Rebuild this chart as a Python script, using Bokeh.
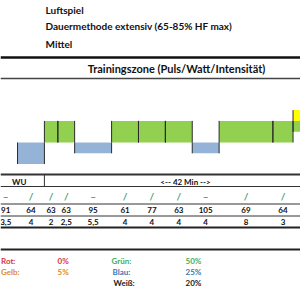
from bokeh.plotting import figure
from bokeh.models import Range1d, ColumnDataSource
from bokeh.embed import file_html
from bokeh.resources import INLINE
from bokeh.core.properties import value

# ---------------- data ----------------
header_lines = ["Luftspiel", "Dauermethode extensiv (65-85% HF max)", "Mittel"]
chart_title = "Trainingszone (Puls/Watt/Intensität)"
symbols = ["–", "/", "/", "/", "–", "/", "/", "/", "–", "/", "/"]
puls = [91, 64, 63, 63, 95, 61, 77, 63, 105, 69, 64]
minutes = [3.5, 4, 2, 2.5, 5.5, 4, 4, 4, 4, 8, 3]
zones = ["Weiß", "Blau", "Grün", "Grün", "Blau", "Grün", "Grün", "Grün", "Blau", "Grün", "Grün"]
zone_low = [0, -2, 0, 0, -1, 0, 0, 0, -1, 0, 0]
zone_high = [0, 0, 2, 2, 0, 2, 2, 2, 0, 2, 2]
# last interval, cut off at the right edge
tail_minutes = 5
tail_zones = ["Grün", "Gelb"]
tail_low = [1, 2]
tail_high = [2, 3]
phases = ["WU", "<-- 42 Min -->"]
phase_minutes = [7.5, 42]
legend_names = ["Rot:", "Gelb:", "Grün:", "Blau:", "Weiß:"]
legend_pct = [0, 5, 50, 25, 20]

# ---------------- style ----------------
FONT = value("Lato")
zone_fill = {"Grün": "#92D050", "Blau": "#95B3D7", "Gelb": "#FFFF00", "Weiß": "#FFFFFF"}
legend_color = {"Rot:": "#d9363e", "Gelb:": "#e08a2c", "Grün:": "#3fae5c",
                "Blau:": "#3b78b5", "Weiß:": "#1a1a1a"}
PX_PER_MIN = 6.72
ORIGIN_PX = -6.5
BASE_PX = 142.0
PX_PER_ZONE = 10.8

p = figure(width=300, height=300, output_backend="svg", toolbar_location=None,
           x_axis_type=None, y_axis_type=None, min_border=0,
           x_range=Range1d(-ORIGIN_PX / PX_PER_MIN, (300 - ORIGIN_PX) / PX_PER_MIN),
           y_range=Range1d((BASE_PX - 300) / PX_PER_ZONE, BASE_PX / PX_PER_ZONE))
p.outline_line_color = None
p.grid.visible = False
p.background_fill_color = "white"
p.border_fill_color = "white"
p.extra_x_ranges = {"px": Range1d(0, 300)}
p.extra_y_ranges = {"px": Range1d(300, 0)}

# ---- bars ----
starts = []
t = 0.0
for m in minutes:
    starts.append(t)
    t += m
tail_start = t

bl, br, bb, bt, bc = [], [], [], [], []
for s, m, z, lo, hi in zip(starts, minutes, zones, zone_low, zone_high):
    if hi > lo:
        bl.append(s); br.append(s + m); bb.append(lo); bt.append(hi); bc.append(zone_fill[z])
for z, lo, hi in zip(tail_zones, tail_low, tail_high):
    bl.append(tail_start); br.append(tail_start + tail_minutes); bb.append(lo); bt.append(hi)
    bc.append(zone_fill[z])
bars = ColumnDataSource(dict(left=bl, right=br, bottom=bb, top=bt, color=bc))
p.quad(left="left", right="right", bottom="bottom", top="top", fill_color="color",
       line_color=None, source=bars)
p.segment(x0="left", x1="left", y0="bottom", y1="top", source=bars,
          line_color="#2b2b2b", line_width=1)
p.segment(x0="right", x1="right", y0="bottom", y1="top", source=bars,
          line_color="#2b2b2b", line_width=1)

# ---- frame lines (pixel layout) ----
hl_y = [57, 78, 174, 186, 203.5, 215.5, 227, 249]
hl_w = [2.5, 1.5, 2, 1, 1, 1, 2, 2]
hl_c = ["#111111", "#444444", "#333333", "#333333", "#333333", "#333333", "#222222", "#222222"]
p.segment(x0=[0] * len(hl_y), x1=[300] * len(hl_y), y0=hl_y, y1=hl_y,
          line_width=hl_w, line_color=hl_c, x_range_name="px", y_range_name="px")

# header texts
p.text(x=[45, 45, 45], y=[9.5, 25.5, 43], text=header_lines, x_range_name="px",
       y_range_name="px", text_font=FONT, text_font_style="bold", text_font_size="10px",
       text_color="#111111", text_baseline="middle", text_align="left")
p.text(x=[176], y=[67.5], text=[chart_title], x_range_name="px", y_range_name="px",
       text_font=FONT, text_font_style="bold", text_font_size="11px",
       text_color="#111111", text_baseline="middle", text_align="center")

# phase row
ph_centers, ph_bounds = [], []
t = 0.0
for m in phase_minutes:
    ph_centers.append(t + m / 2)
    t += m
    ph_bounds.append(t)
p.text(x=ph_centers, y=[181] * len(phases), text=phases, y_range_name="px",
       text_font=FONT, text_font_style="bold", text_font_size="8px",
       text_color="#111111", text_baseline="middle", text_align="center")
p.segment(x0=ph_bounds[:1], x1=ph_bounds[:1], y0=[174], y1=[186], y_range_name="px",
          line_color="#333333", line_width=1)

# table rows
centers = [s + m / 2 for s, m in zip(starts, minutes)]
dur_lbl = [("%g" % m).replace(".", ",") for m in minutes]
p.text(x=centers, y=[195] * len(symbols), text=symbols, y_range_name="px",
       text_font=FONT, text_font_style="bold", text_font_size="10px",
       text_color="#3f9f72", text_baseline="middle", text_align="center")
p.text(x=centers, y=[209.5] * len(puls), text=[str(v) for v in puls], y_range_name="px",
       text_font=FONT, text_font_style="bold", text_font_size="8px",
       text_color="#111111", text_baseline="middle", text_align="center")
p.text(x=centers, y=[221.5] * len(dur_lbl), text=dur_lbl, y_range_name="px",
       text_font=FONT, text_font_style="bold", text_font_size="8px",
       text_color="#111111", text_baseline="middle", text_align="center")

# legend block
lg_x = [0.5, 0.5, 111, 112, 113]
lg_y = [260, 271, 260, 271, 282]
pc_x = [57, 57, 185, 185, 185]
cols = [legend_color[n] for n in legend_names]
p.text(x=lg_x, y=lg_y, text=legend_names, x_range_name="px", y_range_name="px",
       text_font=FONT, text_font_style="bold", text_font_size="8px",
       text_color=cols, text_baseline="middle", text_align="left")
p.text(x=pc_x, y=lg_y, text=["%d%%" % v for v in legend_pct], x_range_name="px",
       y_range_name="px", text_font=FONT, text_font_style="bold", text_font_size="8px",
       text_color=cols, text_baseline="middle", text_align="left")

open("out.html", "w").write(file_html(p, INLINE))
